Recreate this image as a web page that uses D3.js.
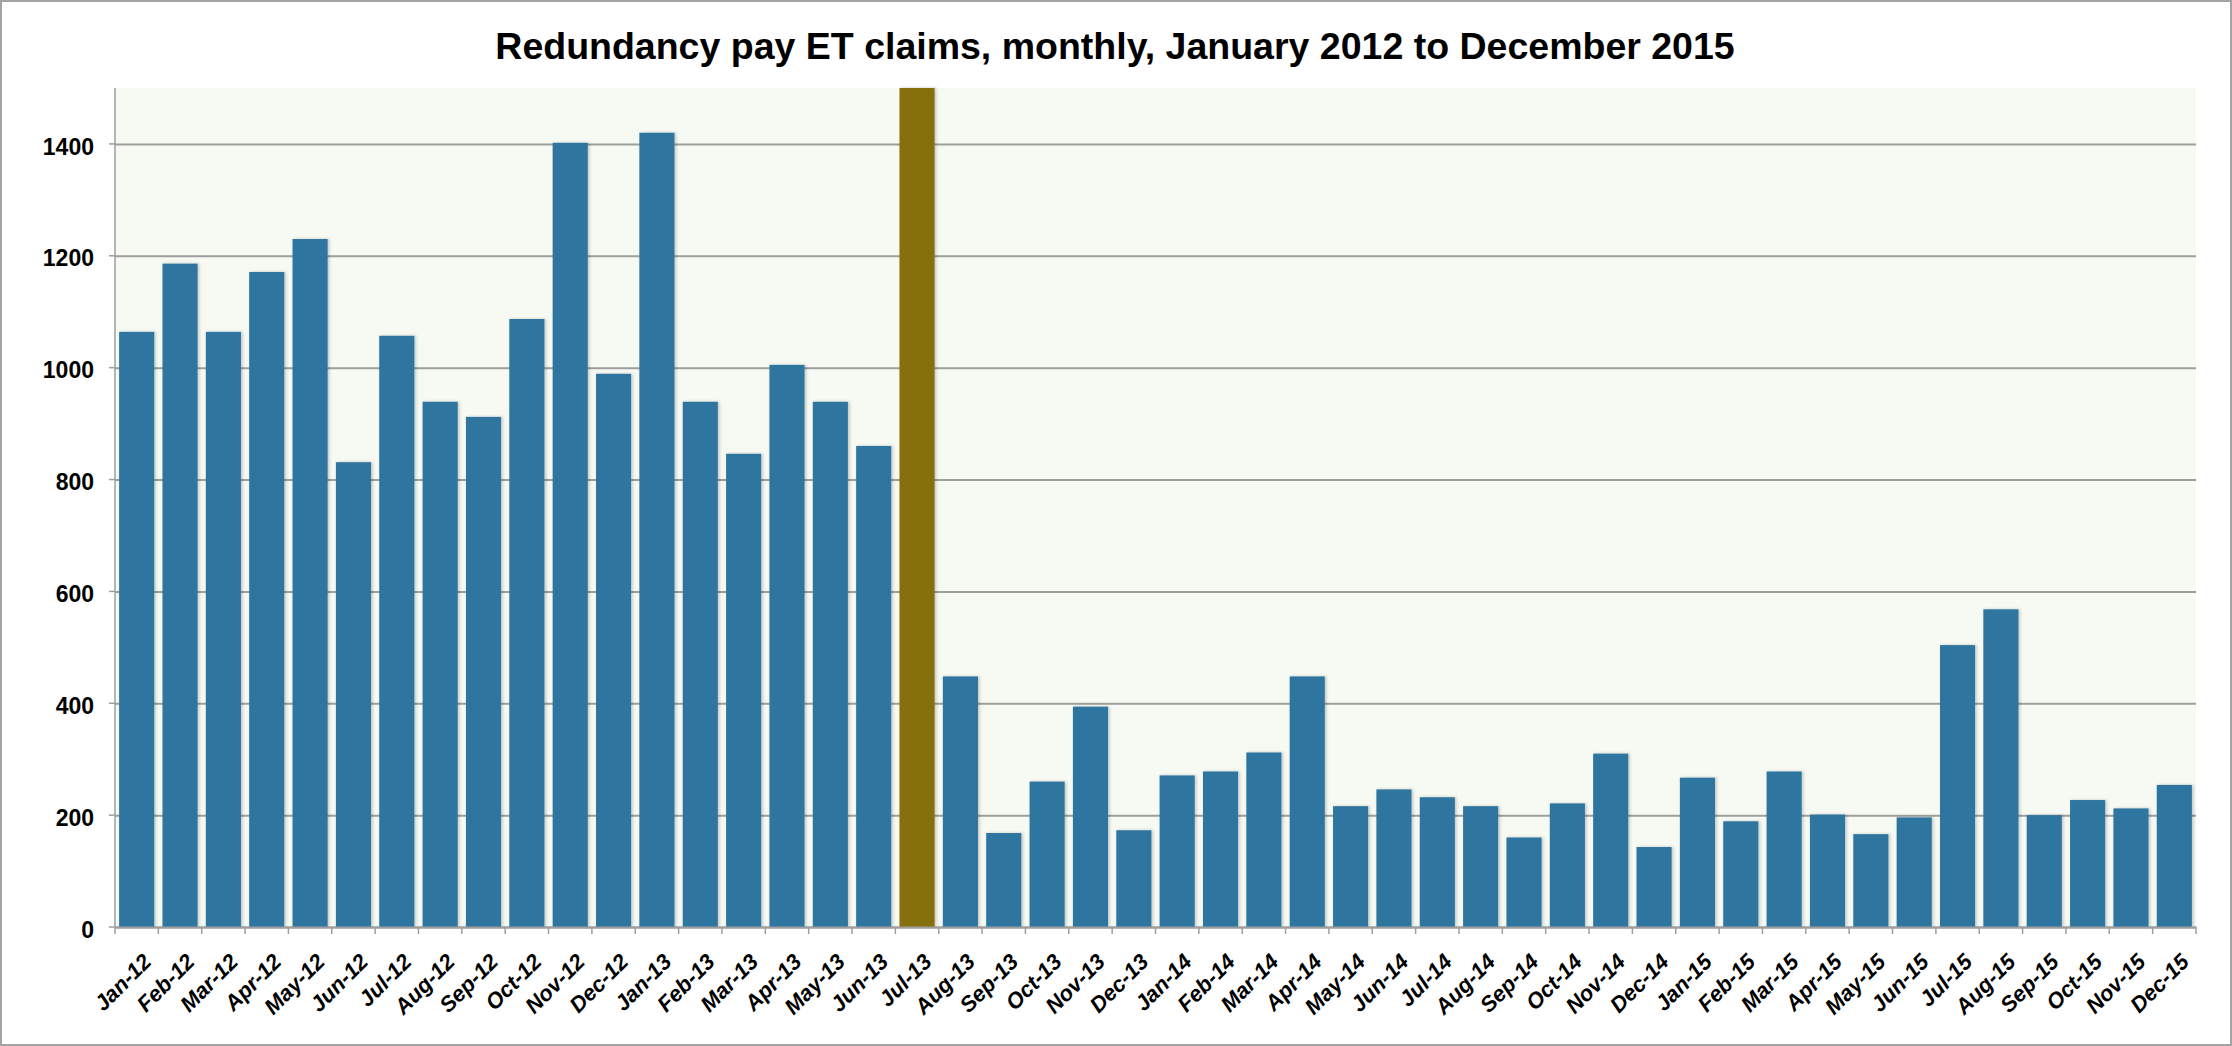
<!DOCTYPE html>
<html>
<head>
<meta charset="utf-8">
<script src="https://cdn.jsdelivr.net/npm/d3@7"></script>
<style>
    body { margin: 0; background: #fff; }
    text { font-family: "Liberation Sans", Arial, sans-serif; }
</style>
</head>
<body>
<div id="chart"></div>
<script>
// monthly categories and claim counts
var months = ["Jan-12", "Feb-12", "Mar-12", "Apr-12", "May-12", "Jun-12", "Jul-12", "Aug-12", "Sep-12", "Oct-12", "Nov-12", "Dec-12",
    "Jan-13", "Feb-13", "Mar-13", "Apr-13", "May-13", "Jun-13", "Jul-13", "Aug-13", "Sep-13", "Oct-13", "Nov-13", "Dec-13",
    "Jan-14", "Feb-14", "Mar-14", "Apr-14", "May-14", "Jun-14", "Jul-14", "Aug-14", "Sep-14", "Oct-14", "Nov-14", "Dec-14",
    "Jan-15", "Feb-15", "Mar-15", "Apr-15", "May-15", "Jun-15", "Jul-15", "Aug-15", "Sep-15", "Oct-15", "Nov-15", "Dec-15"];

var claims = [1064, 1186, 1064, 1171, 1230, 831, 1057, 939, 912, 1087, 1402, 989,
    1420, 939, 846, 1005, 939, 860, 1500, 448, 168, 260, 394, 173,
    271, 278, 312, 448, 216, 246, 232, 216, 160, 221, 310, 143,
    267, 189, 278, 201, 166, 196, 504, 568, 200, 227, 212, 254];

// the month that is highlighted (tribunal fees introduced)
var highlightMonth = "Jul-13";

var yTicks = [0, 200, 400, 600, 800, 1000, 1200, 1400];
var yMax = 1500;

var title = "Redundancy pay ET claims, monthly, January 2012 to December 2015";

var svgWidth = 2232;
var svgHeight = 1046;

var margin = { top: 88, right: 36, bottom: 119, left: 115 };
var width = svgWidth - margin.left - margin.right;
var height = svgHeight - margin.top - margin.bottom;

var svg = d3.select("#chart")
    .append("svg")
    .attr("width", svgWidth)
    .attr("height", svgHeight);

// soft shadow next to the bars
var defs = svg.append("defs");
var shadow = defs.append("filter")
    .attr("id", "barShadow")
    .attr("x", "-20%").attr("y", "-5%")
    .attr("width", "140%").attr("height", "110%");
shadow.append("feDropShadow")
    .attr("dx", 1.5)
    .attr("dy", 0)
    .attr("stdDeviation", 1.5)
    .attr("flood-color", "#000")
    .attr("flood-opacity", 0.22);

// outer frame
svg.append("rect")
    .attr("x", 1)
    .attr("y", 1)
    .attr("width", svgWidth - 2)
    .attr("height", svgHeight - 2)
    .attr("fill", "#fff")
    .attr("stroke", "#a3a3a3")
    .attr("stroke-width", 2);

svg.append("text")
    .attr("x", 1115)
    .attr("y", 59)
    .attr("text-anchor", "middle")
    .style("font-size", "37.5px")
    .style("font-weight", "bold")
    .text(title);

var chartGroup = svg.append("g")
    .attr("transform", `translate(${margin.left}, ${margin.top})`);

// scales
var xBandScale = d3.scaleBand()
    .domain(months)
    .range([0, width])
    .paddingInner(0.19)
    .paddingOuter(0.095);

var yLinearScale = d3.scaleLinear()
    .domain([0, yMax])
    .range([height, 0]);

// plot background
chartGroup.append("rect")
    .attr("width", width)
    .attr("height", height)
    .attr("fill", "#f7faf3");

// gridlines + y labels
var yAxis = d3.axisLeft(yLinearScale)
    .tickValues(yTicks)
    .tickSize(-width)
    .tickPadding(21)
    .tickFormat(d3.format("d"));

var yAxisGroup = chartGroup.append("g")
    .call(yAxis);

yAxisGroup.select(".domain").remove();
yAxisGroup.selectAll(".tick line")
    .attr("stroke", "#9e9e9e")
    .attr("stroke-width", 2);
yAxisGroup.selectAll(".tick text")
    .attr("dy", "0.44em")
    .style("font-size", "23px")
    .style("font-weight", "bold")
    .attr("fill", "#000");

// small ticks to the left of the y axis
chartGroup.append("g")
    .selectAll("line")
    .data(yTicks)
    .enter()
    .append("line")
    .attr("x1", -6)
    .attr("x2", 0)
    .attr("y1", d => yLinearScale(d))
    .attr("y2", d => yLinearScale(d))
    .attr("stroke", "#9e9e9e")
    .attr("stroke-width", 1.5);

// bars
chartGroup.append("g")
    .selectAll("rect")
    .data(months)
    .enter()
    .append("rect")
    .attr("x", d => xBandScale(d))
    .attr("y", (d, i) => yLinearScale(claims[i]))
    .attr("width", xBandScale.bandwidth())
    .attr("height", (d, i) => height - yLinearScale(claims[i]))
    .attr("fill", d => d === highlightMonth ? "#85700c" : "#2e76a0")
    .attr("filter", "url(#barShadow)");

// y axis line
chartGroup.append("line")
    .attr("x1", 0)
    .attr("x2", 0)
    .attr("y1", 0)
    .attr("y2", height)
    .attr("stroke", "#9e9e9e")
    .attr("stroke-width", 1.5);

// x axis: baseline, ticks between months, rotated labels
var xAxis = d3.axisBottom(xBandScale)
    .tickSize(0)
    .tickPadding(0);

var xAxisGroup = chartGroup.append("g")
    .attr("transform", `translate(0, ${height})`)
    .call(xAxis);

xAxisGroup.select(".domain")
    .attr("stroke", "#9e9e9e")
    .attr("stroke-width", 2);

xAxisGroup.selectAll(".tick text")
    .attr("text-anchor", "end")
    .attr("transform", "translate(16, 36) rotate(-45)")
    .attr("y", 0)
    .attr("dy", 0)
    .style("font-size", "22px")
    .style("font-weight", "bold")
    .style("font-style", "italic")
    .attr("fill", "#000");

var step = xBandScale.step();
chartGroup.append("g")
    .selectAll("line")
    .data(months.concat(["end"]))
    .enter()
    .append("line")
    .attr("x1", (d, i) => i * step)
    .attr("x2", (d, i) => i * step)
    .attr("y1", height)
    .attr("y2", height + 7)
    .attr("stroke", "#9e9e9e")
    .attr("stroke-width", 1.5);
</script>
</body>
</html>
